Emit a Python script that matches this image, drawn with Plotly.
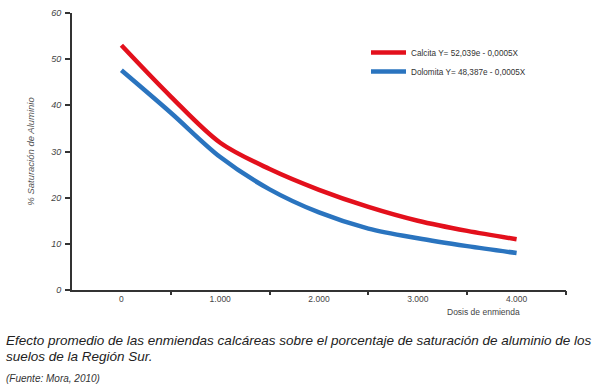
import plotly.graph_objects as go

dosis = [0, 500, 1000, 1500, 2000, 2500, 3000, 3500, 4000]
calcita = [53.0, 41.9, 31.9, 26.2, 21.7, 18.0, 15.0, 12.8, 11.0]
dolomita = [47.6, 38.4, 28.8, 21.8, 16.8, 13.3, 11.2, 9.5, 8.0]

x_labels_vals = [0, 1000, 2000, 3000, 4000]
x_labels_text = ["0", "1.000", "2.000", "3.000", "4.000"]
x_tick_marks = [500, 1500, 2500, 3500, 4500]
y_ticks = [0, 10, 20, 30, 40, 50, 60]

RED = "#e3101c"
BLUE = "#2a74bf"
FONT = "Liberation Sans, Arial, sans-serif"

plot_l, plot_r, plot_t, plot_b = 72, 566, 13, 290

fig = go.Figure()
fig.add_trace(go.Scatter(x=dosis, y=calcita, mode="lines", name="Calcita Y= 52,039e - 0,0005X",
                         line=dict(color=RED, width=4.5, shape="spline", smoothing=0.9)))
fig.add_trace(go.Scatter(x=dosis, y=dolomita, mode="lines", name="Dolomita Y= 48,387e - 0,0005X",
                         line=dict(color=BLUE, width=4.5, shape="spline", smoothing=0.9)))
fig.add_trace(go.Scatter(x=[None], y=[None], xaxis="x2", showlegend=False, hoverinfo="skip"))

fig.update_layout(
    width=600, height=390,
    margin=dict(l=plot_l, r=600 - plot_r, t=plot_t, b=390 - plot_b, autoexpand=False),
    paper_bgcolor="white", plot_bgcolor="white",
    font=dict(family=FONT, color="#333333", size=9),
    showlegend=True,
    legend=dict(x=(366 - plot_l) / (plot_r - plot_l), y=(plot_b - 38) / (plot_b - plot_t),
                xanchor="left", yanchor="top",
                font=dict(size=8.2, color="#333333", family=FONT),
                bgcolor="rgba(0,0,0,0)", tracegroupgap=4, itemwidth=35),
    xaxis=dict(range=[-500, 4500], tickvals=x_labels_vals, ticktext=x_labels_text,
               ticks="", showline=True, linecolor="#333333", linewidth=2,
               showgrid=False, zeroline=False, automargin=False,
               tickfont=dict(size=8.5, color="#444444")),
    xaxis2=dict(range=[-500, 4500], overlaying="x", side="bottom", anchor="y",
                tickvals=x_tick_marks, ticks="outside", ticklen=4, tickwidth=1.5,
                tickcolor="#333333", showticklabels=False, showgrid=False,
                zeroline=False, showline=False, automargin=False),
    yaxis=dict(range=[0, 60], tickvals=y_ticks, ticktext=[f"<i>{v}</i>" for v in y_ticks],
               ticks="outside", ticklen=5, tickwidth=1.5,
               tickcolor="#333333", showline=True, linecolor="#333333", linewidth=2,
               showgrid=False, zeroline=False, automargin=False,
               tickfont=dict(size=9, color="#444444", family=FONT), ticklabelstandoff=2,
               title=dict(text="<i>% Saturación de Aluminio</i>", standoff=14,
                          font=dict(size=9.5, color="#555555"))),
)

annotations = [
    dict(text="Dosis de enmienda", x=483, y=312, xanchor="center", font=dict(size=8.5, color="#444444")),
    dict(text="<i>Efecto promedio de las enmiendas calcáreas sobre el porcentaje de saturación de aluminio de los</i>",
         x=4, y=340, xanchor="left", font=dict(size=13.5, color="#222222")),
    dict(text="<i>suelos de la Región Sur.</i>", x=4, y=356, xanchor="left",
         font=dict(size=13.5, color="#222222")),
    dict(text="<i>(Fuente: Mora, 2010)</i>", x=4, y=378, xanchor="left",
         font=dict(size=10, color="#333333")),
]
for a in annotations:
    fig.add_annotation(text=a["text"], xref="paper", yref="paper",
                       x=(a["x"] - plot_l) / (plot_r - plot_l),
                       y=(plot_b - a["y"]) / (plot_b - plot_t),
                       showarrow=False, xanchor=a["xanchor"], yanchor="middle",
                       font=dict(family=FONT, **a["font"]))

fig.write_html("out.html", config={"displayModeBar": False},
               post_script="document.body.style.margin='0';document.body.style.padding='0';")
